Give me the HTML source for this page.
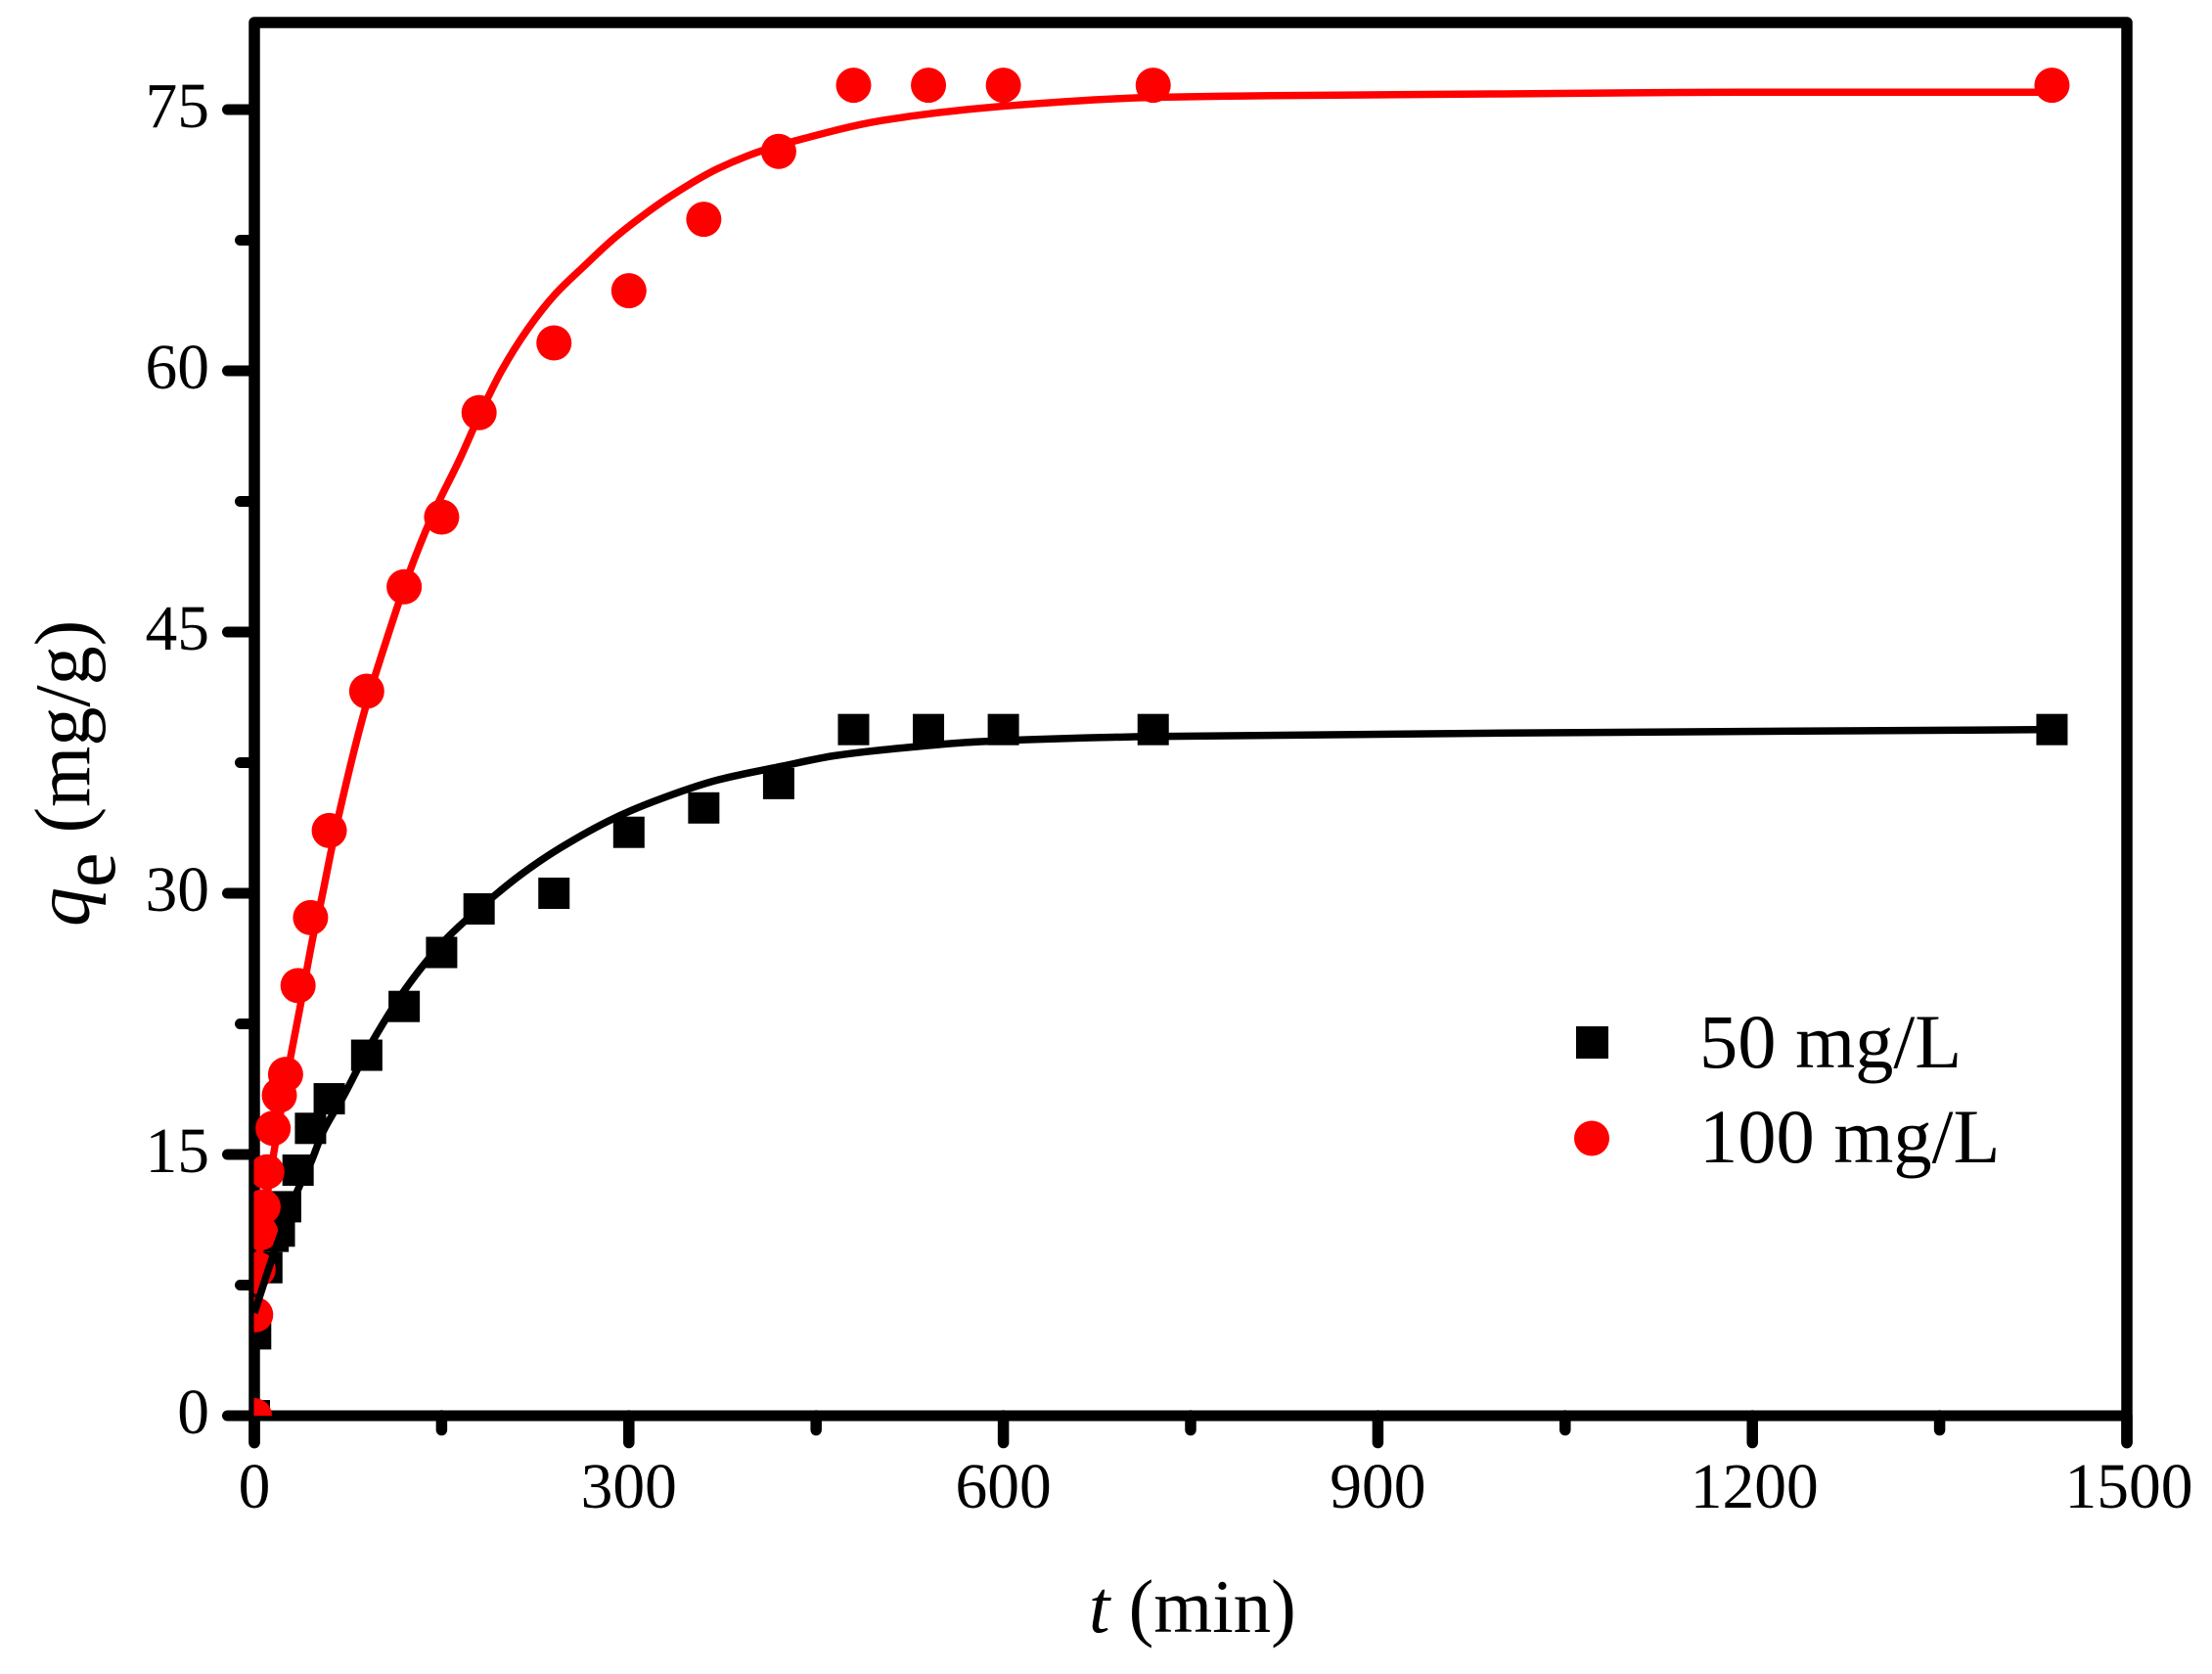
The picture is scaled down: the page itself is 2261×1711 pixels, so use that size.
<!DOCTYPE html>
<html lang="en">
<head>
<meta charset="utf-8">
<title>Adsorption kinetics chart</title>
<style>
html,body{margin:0;padding:0;background:#fff;width:2261px;height:1711px;overflow:hidden}
svg{display:block}
text{font-family:"Liberation Serif",serif;fill:#000}
</style>
</head>
<body>
<svg id="chart" xmlns="http://www.w3.org/2000/svg" width="2261" height="1711" viewBox="0 0 2261 1711">
  <defs>
    <clipPath id="plot-clip"><rect x="259.5" y="23" width="1915" height="1424"/></clipPath>
  </defs>
  <rect x="0" y="0" width="2261" height="1711" fill="#fff"/>
  <g id="axes" stroke="#000" fill="none" stroke-linecap="round" stroke-linejoin="round"></g>
  <g id="x-labels"></g>
  <g id="y-labels"></g>
  <g id="marks" clip-path="url(#plot-clip)"></g>
  <text x="1113" y="1668" font-size="77"><tspan font-style="italic">t</tspan> (min)</text>
  <text transform="translate(91,947) rotate(-90)" x="0" y="0" font-size="80"><tspan font-style="italic">q</tspan><tspan dy="26">e</tspan><tspan dy="-26"> (mg/g)</tspan></text>
  <g>
    <rect x="1611" y="1049" width="33" height="33" fill="#000"/>
    <text x="1737" y="1091" font-size="78.5">50 mg/L</text>
    <circle cx="1627" cy="1163.5" r="18" fill="#ff0000"/>
    <text x="1737" y="1188" font-size="78.5">100 mg/L</text>
  </g>
</svg>
<script>
const xMajorTicks = [0, 300, 600, 900, 1200, 1500];
const xMinorTicks = [150, 450, 750, 1050, 1350];
const yMajorTicks = [0, 15, 30, 45, 60, 75];
const yMinorTicks = [7.5, 22.5, 37.5, 52.5, 67.5];

const blackTimes = [0, 1, 10, 15, 20, 25, 35, 45, 60, 90, 120, 150, 180, 240, 300, 360, 420, 480, 540, 600, 720, 1440];
const blackValues = [0, 4.7, 8.5, 10.3, 10.6, 12, 14.1, 16.5, 18.2, 20.7, 23.5, 26.6, 29.1, 30, 33.5, 34.9, 36.3, 39.4, 39.4, 39.4, 39.4, 39.4];

const redTimes = [0, 1, 3, 5, 7, 10, 15, 20, 25, 35, 45, 60, 90, 120, 150, 180, 240, 300, 360, 420, 480, 540, 600, 720, 1440];
const redValues = [0, 5.8, 8.4, 10.5, 12, 14, 16.5, 18.4, 19.6, 24.7, 28.6, 33.6, 41.6, 47.6, 51.6, 57.6, 61.6, 64.6, 68.7, 72.6, 76.4, 76.4, 76.4, 76.4, 76.4];

const blackFitTimes = [0, 16, 35, 45, 55, 71, 93, 123, 154, 188, 214, 245, 288, 321, 371, 423, 465, 527, 580, 720, 1000, 1440];
const blackFitValues = [5.9, 9.4, 13, 14.5, 16.3, 18.3, 21.3, 24.7, 27.4, 29.6, 31.1, 32.6, 34.3, 35.3, 36.5, 37.3, 37.9, 38.4, 38.7, 39, 39.2, 39.4];

const redFitTimes = [0, 10, 20, 29, 37, 42, 47, 53, 62, 68, 88, 107, 123, 142, 165, 180, 198, 219, 241, 264, 288, 311, 335, 371, 405, 433, 505, 601, 720, 815, 1000, 1200, 1440];
const redFitValues = [7, 12.5, 17, 20.6, 23.6, 25.6, 27.5, 29.4, 32.6, 34.6, 40.4, 44.8, 48.2, 51.6, 55, 57.4, 60, 62.4, 64.4, 66, 67.6, 68.9, 70.1, 71.6, 72.6, 73.2, 74.4, 75.2, 75.7, 75.8, 75.9, 76, 76];

const NS = 'http://www.w3.org/2000/svg';
function xScale(v) { return 260 + v * (1914 / 1500); }
function yScale(v) { return 1447 - v * 17.8; }

const axes = document.getElementById('axes');
const xLabels = document.getElementById('x-labels');
const yLabels = document.getElementById('y-labels');
const marks = document.getElementById('marks');

// Monotone cubic through the read points (Fritsch-Carlson weighted harmonic tangents)
function smoothPath(xs, ys) {
  const px = xs.map(xScale), py = ys.map(yScale), n = px.length;
  const slopes = [];
  for (let i = 0; i < n - 1; i++) slopes.push((py[i + 1] - py[i]) / (px[i + 1] - px[i]));
  const m = [slopes[0]];
  for (let i = 1; i < n - 1; i++) {
    const a = slopes[i - 1], b = slopes[i];
    if (a * b <= 0) { m.push(0); continue; }
    const ha = px[i] - px[i - 1], hb = px[i + 1] - px[i];
    const w1 = 2 * hb + ha, w2 = hb + 2 * ha;
    m.push((w1 + w2) / (w1 / a + w2 / b));
  }
  m.push(slopes[n - 2]);
  let d = 'M' + px[0].toFixed(2) + ',' + py[0].toFixed(2);
  for (let i = 0; i < n - 1; i++) {
    const h = (px[i + 1] - px[i]) / 3;
    d += 'C' + (px[i] + h).toFixed(2) + ',' + (py[i] + m[i] * h).toFixed(2) + ' ' +
      (px[i + 1] - h).toFixed(2) + ',' + (py[i + 1] - m[i + 1] * h).toFixed(2) + ' ' +
      px[i + 1].toFixed(2) + ',' + py[i + 1].toFixed(2);
  }
  return d;
}

function drawLine(parent, x1, y1, x2, y2, w) {
  const l = document.createElementNS(NS, 'line');
  l.setAttribute('x1', x1);
  l.setAttribute('y1', y1);
  l.setAttribute('x2', x2);
  l.setAttribute('y2', y2);
  l.setAttribute('stroke-width', w);
  parent.appendChild(l);
  return l;
}

// Frame
const frame = document.createElementNS(NS, 'path');


frame.setAttribute('d', 'M' + xScale(0) + ',' + (yScale(0) + 27.5) + 'L' + xScale(0) + ',23L' + xScale(1500) + ',23L' + xScale(1500) + ',' + (yScale(0) + 27.5));
frame.setAttribute('stroke-width', '11.5');
axes.appendChild(frame);

const xAxisLine = drawLine(axes, xScale(0), yScale(0), xScale(1500), yScale(0), 11);



xMajorTicks.forEach(function (v) {
  const t = drawLine(axes, xScale(v), yScale(0), xScale(v), yScale(0) + 27.5, 11.5);
  
  
  const label = document.createElementNS(NS, 'text');
  
  
  label.setAttribute('x', xScale(v) + (v >= 1000 ? 2 : 0));
  label.setAttribute('y', 1541);
  label.setAttribute('font-size', 65.5);
  label.setAttribute('text-anchor', 'middle');
  label.textContent = String(v);
  xLabels.appendChild(label);
});
xMinorTicks.forEach(function (v) {
  const t = drawLine(axes, xScale(v), yScale(0), xScale(v), yScale(0) + 14.5, 11.5);
  
  
});
yMajorTicks.forEach(function (v) {
  const t = drawLine(axes, xScale(0), yScale(v), 232.5, yScale(v), 11);
  
  
  const label = document.createElementNS(NS, 'text');
  
  
  label.setAttribute('x', 214);
  label.setAttribute('y', yScale(v) + 18);
  label.setAttribute('font-size', 65.5);
  label.setAttribute('text-anchor', 'end');
  label.textContent = String(v);
  yLabels.appendChild(label);
});
yMinorTicks.forEach(function (v) {
  const t = drawLine(axes, xScale(0), yScale(v), 245.5, yScale(v), 11);
  
  
});

// Series: squares, circles, red fit, black fit (black fit sits on top)
blackTimes.forEach(function (t, i) {
  const r = document.createElementNS(NS, 'rect');
  
  
  r.setAttribute('x', xScale(t) - 16);
  r.setAttribute('y', yScale(blackValues[i]) - 16);
  r.setAttribute('width', 32);
  r.setAttribute('height', 32);
  r.setAttribute('fill', '#000');
  marks.appendChild(r);
});
redTimes.forEach(function (t, i) {
  const c = document.createElementNS(NS, 'circle');
  
  
  c.setAttribute('cx', xScale(t));
  c.setAttribute('cy', yScale(redValues[i]));
  c.setAttribute('r', 18);
  c.setAttribute('fill', '#ff0000');
  marks.appendChild(c);
});
const redFit = document.createElementNS(NS, 'path');


redFit.setAttribute('d', smoothPath(redFitTimes, redFitValues));
redFit.setAttribute('fill', 'none');
redFit.setAttribute('stroke', '#ff0000');
redFit.setAttribute('stroke-width', '7.5');
marks.appendChild(redFit);
const blackFit = document.createElementNS(NS, 'path');


blackFit.setAttribute('d', smoothPath(blackFitTimes, blackFitValues));
blackFit.setAttribute('fill', 'none');
blackFit.setAttribute('stroke', '#000');
blackFit.setAttribute('stroke-width', '7.5');
marks.appendChild(blackFit);
</script>
</body>
</html>
